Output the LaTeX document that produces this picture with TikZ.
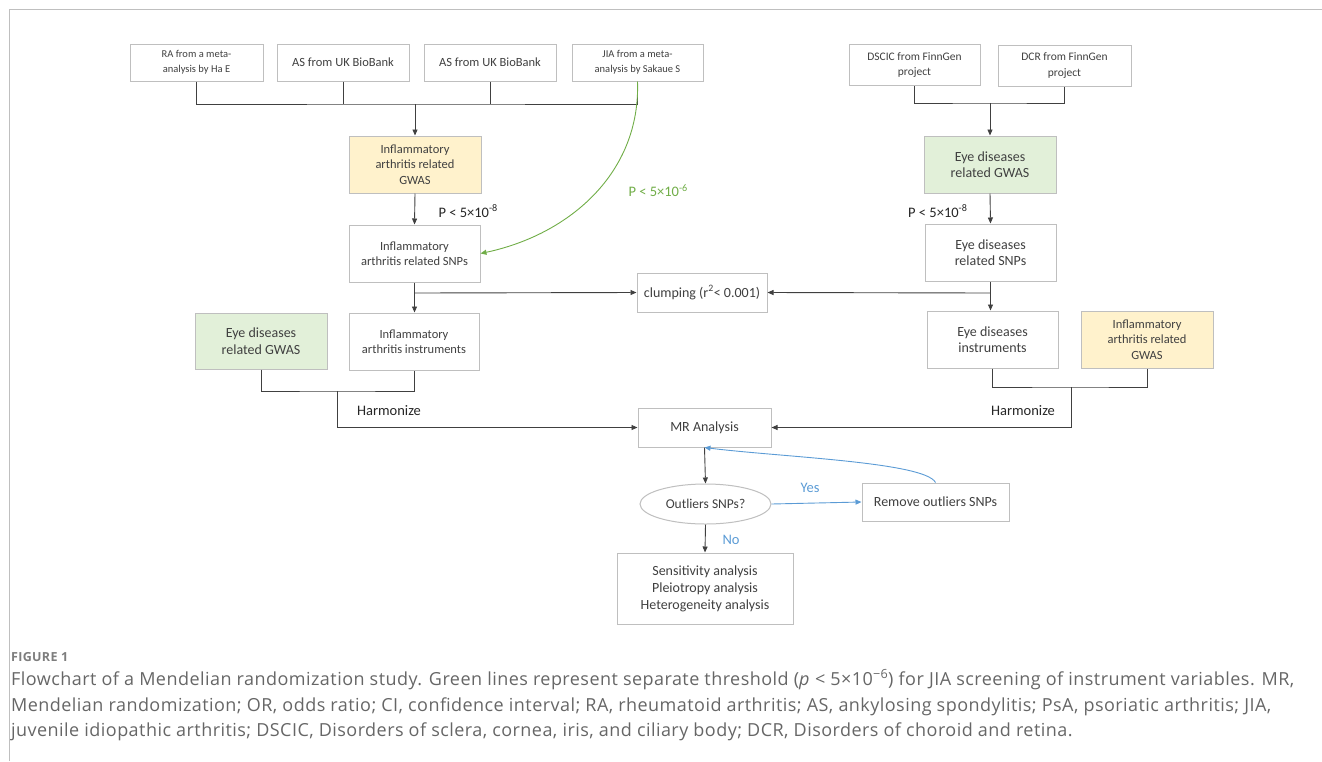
\documentclass[tikz,border=0pt]{standalone}
\usepackage{fontspec}
\setmainfont{Carlito}
\newfontfamily\capfont[LetterSpace=2.5]{Open Sans}
\usetikzlibrary{arrows.meta,shapes.geometric}

\definecolor{boxgray}{HTML}{BFBFBF}
\definecolor{txt}{HTML}{404040}
\definecolor{linegray}{HTML}{404040}
\definecolor{yelfill}{HTML}{FFF2CC}
\definecolor{grnfill}{HTML}{E2F0D9}
\definecolor{grnline}{HTML}{70AD47}
\definecolor{bluline}{HTML}{5B9BD5}
\definecolor{capgray}{HTML}{666666}

\tikzset{
  box/.style={draw=boxgray, line width=1pt, fill=white, align=center, inner sep=2pt, text=txt,
    font=\fontsize{12.5}{15.5}\selectfont},
  small/.style={font=\fontsize{10.5}{15}\selectfont},
  mid/.style={font=\fontsize{11.5}{15.5}\selectfont},
  big/.style={font=\fontsize{14}{16.5}\selectfont},
  yel/.style={fill=yelfill},
  grn/.style={fill=grnfill},
  conn/.style={draw=linegray, line width=0.9pt},
  arr/.style={conn, -{Triangle[length=6pt,width=5pt]}},
  lab/.style={text=black!85, font=\fontsize{14.5}{16}\selectfont},
  captext/.style={text=capgray, font=\capfont\fontsize{18}{22}\selectfont, inner sep=0pt}
}

\begin{document}
\begin{tikzpicture}[x=1pt,y=-1pt]
    \useasboundingbox (0,0) rectangle (1322,761);
    \draw[boxgray, line width=1pt] (9,761) -- (9,9) -- (1322,9);

    % data sources
    \node[box, small, minimum width=133, minimum height=37] (RA) at (196.5,62.5) {RA from a meta-\\analysis by Ha E};
    \node[box, minimum width=132, minimum height=37] (AS1) at (343,62.5) {AS from UK BioBank};
    \node[box, minimum width=132, minimum height=37] (AS2) at (490,62.5) {AS from UK BioBank};
    \node[box, small, minimum width=131, minimum height=37] (JIA) at (637.5,62.5) {JIA from a meta-\\analysis by Sakaue S};
    \node[box, mid, minimum width=131, minimum height=41] (DS) at (914.5,65) {DSCIC from FinnGen\\project};
    \node[box, mid, minimum width=133, minimum height=41] (DCR) at (1064.5,65.5) {DCR from FinnGen\\project};

    % GWAS and SNPs
    \node[box, yel, minimum width=132, minimum height=57] (IAG) at (415,164.5) {Inflammatory\\arthritis related\\GWAS};
    \node[box, grn, big, minimum width=132, minimum height=57] (EG) at (990,164.5) {Eye diseases\\related GWAS};
    \node[box, minimum width=131, minimum height=57] (IAS) at (414.5,253.5) {Inflammatory\\arthritis related SNPs};
    \node[box, big, minimum width=131, minimum height=57] (ES) at (990.5,252.5) {Eye diseases\\related SNPs};
    \node[box, big, minimum width=130, minimum height=39] (CL) at (702,292.5) {clumping (r\textsuperscript{2}< 0.001)};

    % instruments
    \node[box, grn, big, minimum width=132, minimum height=56] (EGL) at (261,341) {Eye diseases\\related GWAS};
    \node[box, minimum width=130, minimum height=57] (IAI) at (414,341.5) {Inflammatory\\arthritis instruments};
    \node[box, big, minimum width=131, minimum height=57] (EI) at (992.5,339.5) {Eye diseases\\instruments};
    \node[box, yel, minimum width=132, minimum height=57] (IAR) at (1147,339.5) {Inflammatory\\arthritis related\\GWAS};

    % analysis
    \node[box, big, minimum width=133, minimum height=39] (MR) at (704.5,427.5) {MR Analysis};
    \node[box, shape=ellipse, font=\fontsize{13.5}{16}\selectfont, minimum width=131, minimum height=40] (OUT) at (705.5,504) {Outliers SNPs?};
    \node[box, big, minimum width=147, minimum height=38] (REM) at (935.5,502) {Remove outliers SNPs};
    \node[box, font=\fontsize{14}{17}\selectfont, minimum width=176, minimum height=71] (SENS) at (705,588.5) {Sensitivity analysis\\Pleiotropy analysis\\Heterogeneity analysis};

    \coordinate (b1) at (415,104);
    \coordinate (b2) at (990,103);
    \coordinate (c1) at (415,293);
    \coordinate (c2) at (990.5,293);
    \coordinate (h1) at (337,391);
    \coordinate (h2) at (1071,387);

    \draw[conn] (RA.south) |- (b1) -| (JIA.south);
    \draw[conn] (AS1.south) -- (AS1.south |- b1);
    \draw[conn] (AS2.south) -- (AS2.south |- b1);
    \draw[arr] (b1) -- (IAG.north);
    \draw[conn] (DS.south) |- (b2) -| (DCR.south);
    \draw[arr] (b2) -- (EG.north);

    \draw[arr] (IAG.south) -- (IAS.north);
    \draw[arr] (EG.south) -- (ES.north);
    \draw[arr] (IAS.south) -- (IAS.south |- IAI.north);
    \draw[arr] (ES.south) -- (ES.south |- EI.north);
    \draw[arr] (c1) -- (CL.west);
    \draw[arr] (c2) -- (CL.east);
    \node[lab, anchor=west] (p8a) at (435,211) {P < 5×10\textsuperscript{-8}};
    \node[lab, anchor=east] (p8b) at (971,211) {P < 5×10\textsuperscript{-8}};

    \draw[grnline, line width=0.9pt, -{Triangle[length=6pt,width=5pt]}] (JIA.south) to[out=-88, in=12] (IAS.east);
    \node[lab, text=grnline, anchor=west] (p6) at (625,191) {P < 5×10\textsuperscript{-6}};

    \draw[conn] (EGL.south) |- (h1) -| (IAI.south);
    \draw[arr] (h1) |- (MR.west);
    \draw[conn] (EI.south) |- (h2) -| (IAR.south);
    \draw[arr] (h2) |- (MR.east);
    \node[lab] (hl) at (389,411) {Harmonize};
    \node[lab] (hr) at (1023,411) {Harmonize};

    \draw[arr] (MR.south) -- (OUT.north);
    \draw[arr] (OUT.south) -- (SENS.north);
    \draw[bluline, line width=0.9pt, -{Triangle[length=6pt,width=5pt]}] (OUT.east) -- (REM.west);
    \draw[bluline, line width=0.9pt, -{Triangle[length=6pt,width=5pt]}] (REM.north) .. controls (925,462) and (780,457) .. (MR.south);
    \node[lab, text=bluline] (yes) at (810,488) {Yes};
    \node[lab, text=bluline] (no) at (731,540) {No};

    % caption
    \node[captext, anchor=base west, font=\capfont\bfseries\fontsize{12.5}{14}\selectfont, text=capgray!85] (fig) at (11,661) {FIGURE 1};
    \node[captext, anchor=base west] (cap1) at (11,685) {Flowchart of a Mendelian randomization study. Green lines represent separate threshold (\textit{p} < 5×10\textsuperscript{−6}) for JIA screening of instrument variables. MR,};
    \node[captext, anchor=base west] (cap2) at (11,711) {Mendelian randomization; OR, odds ratio; CI, confidence interval; RA, rheumatoid arthritis; AS, ankylosing spondylitis; PsA, psoriatic arthritis; JIA,};
    \node[captext, anchor=base west] (cap3) at (11,736) {juvenile idiopathic arthritis; DSCIC, Disorders of sclera, cornea, iris, and ciliary body; DCR, Disorders of choroid and retina.};
\end{tikzpicture}
\end{document}
